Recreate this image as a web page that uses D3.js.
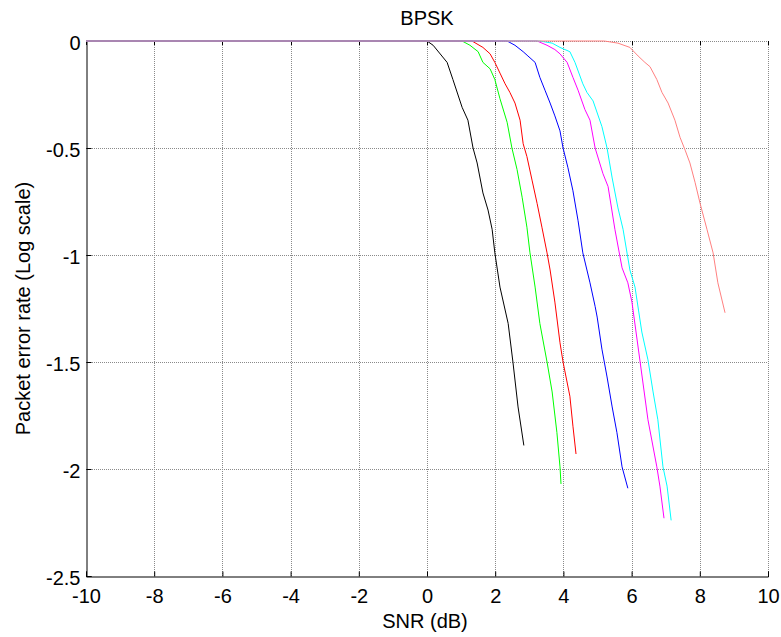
<!DOCTYPE html>
<html>
<head>
<meta charset="utf-8">
<script src="https://cdn.jsdelivr.net/npm/d3@7"></script>
<style>
  body { margin: 0; background: #fff; }
  text { font-family: "Liberation Sans", Arial, sans-serif; }
</style>
</head>
<body>
<div id="chart"></div>
<script>
// curve data: SNR (dB) and packet error rate (log10)
const snrBlack = [-10, 0, 0.18, 0.59, 0.76, 1.03, 1.2, 1.35, 1.47, 1.64, 1.79, 1.91, 1.99, 2.14, 2.38, 2.52, 2.67, 2.84]
const perBlack = [0, 0, -0.02, -0.1, -0.18, -0.31, -0.37, -0.5, -0.57, -0.71, -0.79, -0.88, -0.99, -1.15, -1.32, -1.5, -1.71, -1.89]

const snrGreen = [-10, 1.03, 1.26, 1.5, 1.64, 1.85, 1.99, 2.14, 2.35, 2.49, 2.64, 2.79, 2.93, 3.02, 3.17, 3.31, 3.52, 3.67, 3.81, 3.9, 3.93]
const perGreen = [0, 0, -0.02, -0.05, -0.1, -0.13, -0.18, -0.27, -0.38, -0.5, -0.6, -0.73, -0.87, -0.99, -1.15, -1.32, -1.5, -1.64, -1.83, -1.99, -2.07]

const snrRed = [-10, 1.32, 1.64, 1.85, 1.99, 2.14, 2.29, 2.43, 2.58, 2.73, 2.82, 2.93, 3.08, 3.23, 3.37, 3.52, 3.61, 3.75, 3.9, 3.99, 4.19, 4.28, 4.37]
const perRed = [0, 0, -0.03, -0.06, -0.1, -0.15, -0.2, -0.24, -0.29, -0.37, -0.48, -0.54, -0.65, -0.76, -0.87, -0.99, -1.07, -1.22, -1.41, -1.5, -1.66, -1.8, -1.93]

const snrBlue = [-10, 2.35, 2.58, 2.82, 2.96, 3.17, 3.31, 3.46, 3.61, 3.75, 3.9, 3.99, 4.13, 4.28, 4.43, 4.57, 4.78, 4.93, 4.99, 5.13, 5.28, 5.43, 5.57, 5.72, 5.89]
const perBlue = [0, 0, -0.02, -0.05, -0.07, -0.1, -0.17, -0.23, -0.29, -0.35, -0.42, -0.5, -0.59, -0.7, -0.84, -0.99, -1.13, -1.24, -1.29, -1.44, -1.57, -1.71, -1.83, -1.99, -2.09]

const snrMagenta = [-10, 3.23, 3.52, 3.75, 3.9, 4.11, 4.28, 4.43, 4.63, 4.78, 4.93, 5.16, 5.31, 5.51, 5.72, 5.89, 6.01, 6.25, 6.48, 6.74, 6.83, 6.95]
const perMagenta = [0, 0, -0.02, -0.04, -0.06, -0.1, -0.17, -0.23, -0.32, -0.37, -0.5, -0.62, -0.68, -0.88, -1.06, -1.13, -1.22, -1.5, -1.77, -1.99, -2.08, -2.23]

const snrCyan = [-10, 3.31, 3.67, 3.9, 4.19, 4.34, 4.57, 4.69, 4.87, 5.13, 5.28, 5.43, 5.6, 5.75, 5.95, 6.1, 6.3, 6.48, 6.63, 6.77, 6.92, 7.04, 7.16]
const perCyan = [0, 0, -0.01, -0.03, -0.05, -0.1, -0.2, -0.24, -0.28, -0.4, -0.5, -0.64, -0.78, -0.88, -1.07, -1.15, -1.36, -1.49, -1.64, -1.77, -1.99, -2.08, -2.24]

const snrSalmon = [-10, 5.2, 5.6, 5.95, 6.19, 6.39, 6.54, 6.74, 6.89, 7.07, 7.27, 7.42, 7.57, 7.71, 7.86, 8.01, 8.21, 8.39, 8.53, 8.74]
const perSalmon = [0, 0, -0.01, -0.03, -0.07, -0.1, -0.12, -0.18, -0.24, -0.29, -0.37, -0.45, -0.51, -0.57, -0.66, -0.76, -0.88, -0.99, -1.13, -1.27]

const X_TICKS = [-10, -8, -6, -4, -2, 0, 2, 4, 6, 8, 10]
const Y_TICKS = [0, -0.5, -1, -1.5, -2, -2.5]

const SERIES = [
    { x: snrBlack, y: perBlack, color: "#000000" },
    { x: snrGreen, y: perGreen, color: "#00ff00" },
    { x: snrRed, y: perRed, color: "#ff0000" },
    { x: snrBlue, y: perBlue, color: "#0000ff" },
    { x: snrMagenta, y: perMagenta, color: "#ff00ff" },
    { x: snrCyan, y: perCyan, color: "#00ffff" },
    { x: snrSalmon, y: perSalmon, color: "#ff8080" }
]

// set the dimensions and margins of the graph
const WIDTH = 781,
    HEIGHT = 637,
    MARGIN = { top: 41, right: 13, bottom: 61, left: 86 },
    FONT_SIZE = "20px"

// MATLAB prints a plain hyphen for negative numbers
const fmt = d => String(d)

const svg = d3.select("#chart")
    .append("svg")
    .attr("width", WIDTH)
    .attr("height", HEIGHT)

const x = d3.scaleLinear()
    .domain([-10, 10])
    .range([MARGIN.left, WIDTH - MARGIN.right])

const y = d3.scaleLinear()
    .domain([-2.5, 0])
    .range([HEIGHT - MARGIN.bottom, MARGIN.top])

// dotted grid
const grid = svg.append("g")
    .attr("stroke", "#8a8a8a")
    .attr("stroke-width", 1)
    .attr("stroke-dasharray", "1,1")

grid.selectAll(".vx")
    .data(X_TICKS.slice(1))
    .enter()
    .append("line")
    .attr("x1", d => Math.round(x(d)) + 0.5)
    .attr("x2", d => Math.round(x(d)) + 0.5)
    .attr("y1", y(0))
    .attr("y2", y(-2.5))

grid.selectAll(".hy")
    .data(Y_TICKS.slice(0, -1))
    .enter()
    .append("line")
    .attr("y1", d => Math.round(y(d)) + 0.5)
    .attr("y2", d => Math.round(y(d)) + 0.5)
    .attr("x1", x(-10))
    .attr("x2", x(10))

// axes, MATLAB style: ticks pointing inwards
const xAxis = svg.append("g")
    .attr("transform", "translate(0," + (Math.round(y(-2.5)) + 0.5) + ")")
    .call(d3.axisBottom(x).tickValues(X_TICKS).tickSize(-5).tickPadding(12).tickFormat(fmt))

const yAxis = svg.append("g")
    .attr("transform", "translate(" + (Math.round(x(-10)) + 0.5) + ",0)")
    .call(d3.axisLeft(y).tickValues(Y_TICKS).tickSize(-5).tickPadding(6).tickFormat(fmt))

svg.selectAll(".domain").attr("stroke", "#000")
svg.selectAll(".tick line").attr("stroke", "#000")
svg.selectAll(".tick text")
    .attr("fill", "#000")
    .style("font-size", FONT_SIZE)
    .style("font-family", "Liberation Sans, Arial, sans-serif")
yAxis.selectAll(".tick text").attr("dy", "0.4em")

// small top ticks
svg.append("g")
    .selectAll("line")
    .data(X_TICKS)
    .enter()
    .append("line")
    .attr("x1", d => Math.round(x(d)) + 0.5)
    .attr("x2", d => Math.round(x(d)) + 0.5)
    .attr("y1", y(0))
    .attr("y2", y(0) + 4)
    .attr("stroke", "#000")

// curves
const line = d3.line()
    .x(d => x(d[0]))
    .y(d => y(d[1]))

svg.append("g")
    .selectAll("path")
    .data(SERIES)
    .enter()
    .append("path")
    .attr("d", s => line(d3.zip(s.x, s.y)))
    .attr("fill", "none")
    .attr("stroke", s => s.color)
    .attr("stroke-width", 1)

// labels
svg.append("text")
    .attr("x", (x(-10) + x(10)) / 2)
    .attr("y", 25)
    .attr("text-anchor", "middle")
    .style("font-size", FONT_SIZE)
    .text("BPSK")

svg.append("text")
    .attr("x", (x(-10) + x(10)) / 2 - 2)
    .attr("y", 628)
    .attr("text-anchor", "middle")
    .style("font-size", FONT_SIZE)
    .text("SNR (dB)")

svg.append("text")
    .attr("transform", "translate(30," + ((y(0) + y(-2.5)) / 2) + ") rotate(-90)")
    .attr("text-anchor", "middle")
    .style("font-size", FONT_SIZE)
    .text("Packet error rate (Log scale)")
</script>
</body>
</html>
